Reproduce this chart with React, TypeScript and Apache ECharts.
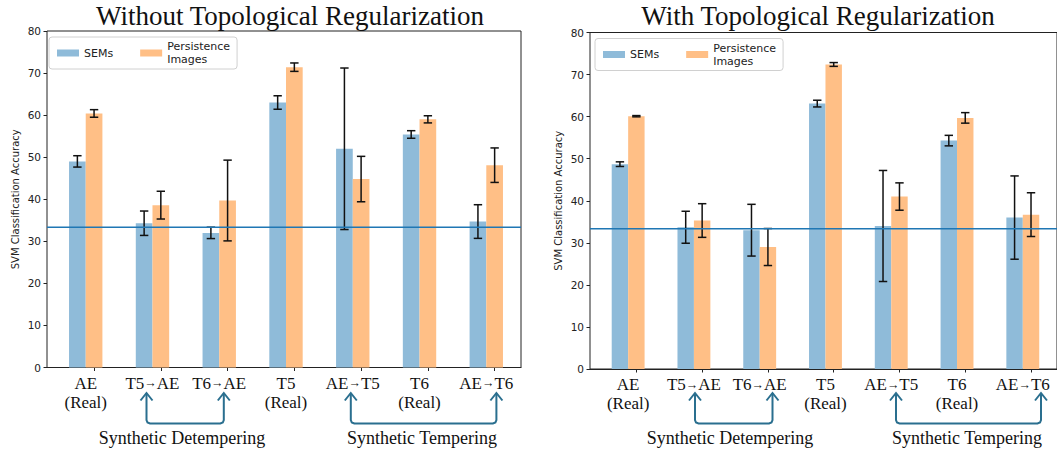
import React, { useEffect, useRef } from "react";
import * as echarts from "echarts";

// ---------- data ----------
const categories = ["AE\n(Real)", "T5→AE", "T6→AE", "T5\n(Real)", "AE→T5", "T6\n(Real)", "AE→T6"];
const seriesNames = ["SEMs", "Persistence Images"];

// Without topological regularization
const withoutSem = [49.0, 34.3, 32.0, 63.0, 52.0, 55.4, 34.7];
const withoutSemErr = [1.35, 2.9, 1.35, 1.6, 19.2, 0.9, 4.0];
const withoutPi = [60.4, 38.6, 39.7, 71.4, 44.8, 59.0, 48.1];
const withoutPiErr = [0.9, 3.3, 9.6, 1.0, 5.4, 0.85, 4.1];

// With topological regularization
const withSem = [48.7, 33.7, 33.0, 63.1, 34.0, 54.3, 36.0];
const withSemErr = [0.55, 3.8, 6.15, 0.8, 13.2, 1.25, 9.9];
const withPi = [60.1, 35.3, 29.0, 72.4, 41.0, 59.7, 36.7];
const withPiErr = [0.15, 4.0, 4.4, 0.45, 3.25, 1.25, 5.2];

const chanceLevel = 33.33;
const yTicks = { min: 0, max: 80, interval: 10 };
const titles = ["Without Topological Regularization", "With Topological Regularization"];
const groupLabels = ["Synthetic Detempering", "Synthetic Tempering"];

// ---------- styles ----------
const BLUE = "#8fbbd9";
const ORANGE = "#ffbf86";
const LINE_BLUE = "#1f77b4";
const TEAL = "#2a6f8f";
const INK = "#222";
const SANS = "DejaVu Sans";
const SERIF = "Liberation Serif";
const X_MIN = -0.58;
const X_MAX = 6.52;
const BAR_W = 0.25;

function makeRender(offset: number, color: string) {
  return (params: any, api: any) => {
    const i = api.value(0);
    const v = api.value(1);
    const e = api.value(2);
    const tl = api.coord([i + offset, v]);
    const br = api.coord([i + offset + BAR_W, 0]);
    const cx = api.coord([i + offset + BAR_W / 2, v])[0];
    const yTop = api.coord([i, v + e])[1];
    const yBot = api.coord([i, v - e])[1];
    const cap = 4.2;
    const ls = { stroke: "#111", lineWidth: 1.5 };
    return {
      type: "group",
      children: [
        {
          type: "rect",
          shape: { x: tl[0], y: tl[1], width: br[0] - tl[0], height: br[1] - tl[1] },
          style: { fill: color },
        },
        { type: "line", shape: { x1: cx, y1: yTop, x2: cx, y2: yBot }, style: ls, z2: 5 },
        { type: "line", shape: { x1: cx - cap, y1: yTop, x2: cx + cap, y2: yTop }, style: ls, z2: 5 },
        { type: "line", shape: { x1: cx - cap, y1: yBot, x2: cx + cap, y2: yBot }, style: ls, z2: 5 },
      ],
    };
  };
}

function bracket(x1: number, x2: number, label: string, labelX: number) {
  const tipY = 393;
  const baseY = 423.5;
  const r = 3.5;
  const head = (x: number) => ({
    type: "polyline",
    shape: { points: [[x - 6, tipY + 7.5], [x, tipY], [x + 6, tipY + 7.5]] },
    style: { stroke: TEAL, lineWidth: 2, fill: null },
  });
  return [
    {
      type: "polyline",
      shape: {
        points: [
          [x1, tipY],
          [x1, baseY - r],
          [x1 + 1, baseY - 1],
          [x1 + r, baseY],
          [x2 - r, baseY],
          [x2 - 1, baseY - 1],
          [x2, baseY - r],
          [x2, tipY],
        ],
      },
      style: { stroke: TEAL, lineWidth: 2, fill: null },
    },
    head(x1),
    head(x2),
    {
      type: "text",
      style: {
        text: label,
        x: labelX,
        y: 438,
        fontFamily: SERIF,
        fontSize: 18,
        fill: "#111",
        textAlign: "center",
        textVerticalAlign: "middle",
        verticalAlign: "middle",
      },
    },
  ];
}

function formatCategory(v: number) {
  const c = categories[Math.round(v)] ?? "";
  const parts = c.split("→");
  if (parts.length === 2) return `${parts[0]}{a|→}${parts[1]}`;
  return c;
}

export default function App() {
  const ref = useRef<HTMLDivElement>(null);

  useEffect(() => {
    if (!ref.current) return;
    const chart = echarts.init(ref.current, undefined, { renderer: "svg" });

    const grids = [
      { left: 47, top: 31, width: 474, height: 336.5 },
      { left: 590, top: 32.5, width: 474, height: 336.5 },
    ];
    const datasets = [
      { sem: withoutSem, semErr: withoutSemErr, pi: withoutPi, piErr: withoutPiErr },
      { sem: withSem, semErr: withSemErr, pi: withPi, piErr: withPiErr },
    ];

    const labelValues = categories.map((_, i) => i);
    const tickValues = categories.map((_, i) => i + BAR_W / 2);

    const xAxis = grids.map((_, g) => ({
      type: "value",
      gridIndex: g,
      min: X_MIN,
      max: X_MAX,
      splitLine: { show: false },
      axisLine: { show: true, onZero: false, lineStyle: { color: INK, width: 1 } },
      axisTick: { show: true, customValues: tickValues, length: 3.5, lineStyle: { color: INK } },
      axisLabel: {
        customValues: labelValues,
        formatter: formatCategory,
        fontFamily: SERIF,
        fontSize: 17,
        lineHeight: 19,
        color: "#111",
        margin: 6,
        rich: {
          a: { fontFamily: SERIF, fontSize: 12.5, color: "#111", lineHeight: 19 },
        },
      },
    }));

    const yAxis = grids.map((_, g) => ({
      type: "value",
      gridIndex: g,
      min: yTicks.min,
      max: yTicks.max,
      interval: yTicks.interval,
      splitLine: { show: false },
      axisLine: { show: false, onZero: false },
      axisTick: { show: true, length: 3.5, lineStyle: { color: INK } },
      axisLabel: { fontFamily: SANS, fontSize: 10.5, color: INK, margin: 6 },
      name: "SVM Classification Accuracy",
      nameLocation: "middle",
      nameGap: 27,
      nameTextStyle: { fontFamily: SANS, fontSize: 10, color: INK },
    }));

    const series: any[] = [];
    datasets.forEach((d, g) => {
      series.push({
        type: "custom",
        name: seriesNames[0],
        xAxisIndex: g,
        yAxisIndex: g,
        itemStyle: { color: BLUE },
        encode: { x: 0, y: 1 },
        data: categories.map((_, i) => [i, d.sem[i], d.semErr[i]]),
        renderItem: makeRender(-BAR_W, BLUE),
        z: 2,
      });
      series.push({
        type: "custom",
        name: seriesNames[1],
        xAxisIndex: g,
        yAxisIndex: g,
        itemStyle: { color: ORANGE },
        encode: { x: 0, y: 1 },
        data: categories.map((_, i) => [i, d.pi[i], d.piErr[i]]),
        renderItem: makeRender(0, ORANGE),
        z: 2,
      });
      series.push({
        type: "line",
        name: "chance",
        xAxisIndex: g,
        yAxisIndex: g,
        data: [
          [X_MIN, chanceLevel],
          [X_MAX, chanceLevel],
        ],
        symbol: "none",
        lineStyle: { color: LINE_BLUE, width: 1.6 },
        z: 4,
        silent: true,
      });
    });

    const legendPos = [
      { left: 49, top: 37 },
      { left: 595, top: 38.5 },
    ];
    const legend = legendPos.map((p) => ({
      ...p,
      orient: "horizontal",
      data: [
        { name: seriesNames[0], icon: "rect", itemStyle: { color: BLUE } },
        { name: seriesNames[1], icon: "rect", itemStyle: { color: ORANGE } },
      ],
      formatter: (n: string) => (n === "Persistence Images" ? "Persistence\nImages" : n),
      itemWidth: 22,
      itemHeight: 7,
      itemGap: 27,
      padding: [3, 7, 3, 8],
      borderColor: "#d0d0d0",
      borderWidth: 1,
      borderRadius: 3,
      backgroundColor: "#fff",
      selectedMode: false,
      textStyle: { fontFamily: SANS, fontSize: 11, lineHeight: 13, color: INK },
    }));

    const title = [
      { text: titles[0], left: 290, top: 2 },
      { text: titles[1], left: 818, top: 2 },
    ].map((t) => ({
      ...t,
      textAlign: "center",
      padding: 0,
      textStyle: { fontFamily: SERIF, fontSize: 27, fontWeight: "normal", color: "#111" },
    }));

    const graphic = [
      ...bracket(146.5, 223.8, groupLabels[0], 182),
      ...bracket(350.8, 496.4, groupLabels[1], 422),
      ...bracket(695, 772.5, groupLabels[0], 730),
      ...bracket(896, 1041, groupLabels[1], 967),
    ];

    chart.setOption({
      animation: false,
      backgroundColor: "#fff",
      title,
      legend,
      grid: grids.map((g) => ({ ...g, show: true, borderColor: INK, borderWidth: 1, backgroundColor: "transparent" })),
      xAxis,
      yAxis,
      series,
      graphic,
    });

    return () => chart.dispose();
  }, []);

  return (
    <div
      ref={ref}
      style={{ position: "absolute", left: 0, top: 0, width: 1057, height: 451, background: "#fff" }}
    />
  );
}
